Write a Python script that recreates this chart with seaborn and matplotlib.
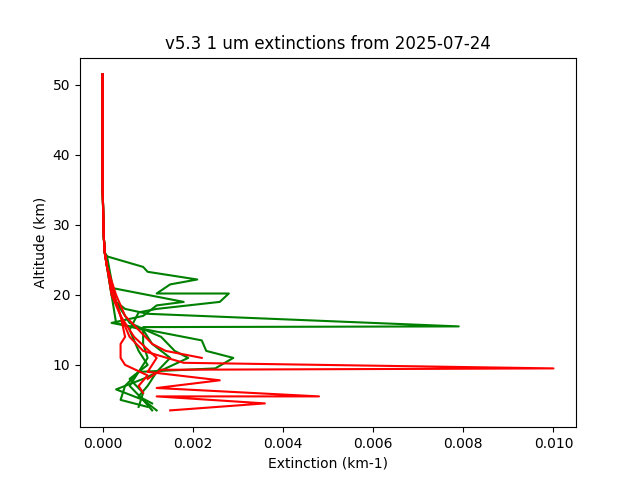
import matplotlib
matplotlib.use("Agg")
import matplotlib.pyplot as plt
import seaborn as sns

# shared upper-atmosphere part (altitude km, extinction km-1)
top_alt = [51.5, 45, 40, 36, 33, 30, 28, 27, 26]
top_ext = [0.0, 0.0, 0.0, 0.0, 0.00001, 0.00002, 0.00003, 0.00004, 0.00005]

green_profiles = [
    ([25.5, 22, 19, 18, 17.3, 15.5, 15.4, 13, 11, 9, 7, 5, 3.5],
     [0.0001, 0.0002, 0.0003, 0.0005, 0.0010, 0.0079, 0.0009, 0.0009, 0.001, 0.0008, 0.0006, 0.0009, 0.0011]),
    ([25.5, 24, 23.3, 22.2, 21.5, 20.2, 20.2, 19, 18, 17.5, 15, 12, 10, 8, 6, 4],
     [0.0001, 0.0009, 0.001, 0.0021, 0.0015, 0.0012, 0.0028, 0.0026, 0.0012, 0.0008, 0.0006, 0.0008, 0.001, 0.0006, 0.0009, 0.0008]),
    ([24, 21, 20, 19, 18.5, 17, 16, 15, 13.5, 12, 11, 9.5, 9, 7, 5, 4],
     [0.0001, 0.0002, 0.0010, 0.0018, 0.0012, 0.0009, 0.0002, 0.001, 0.0022, 0.0023, 0.0029, 0.0025, 0.0008, 0.0005, 0.0004, 0.001]),
    ([24, 20, 18, 16, 14, 12, 11, 8, 6.5, 5, 3.5],
     [0.0001, 0.0002, 0.0004, 0.0006, 0.0013, 0.0016, 0.0019, 0.0009, 0.0003, 0.0009, 0.0012]),
    ([24, 20, 16, 15, 13, 11, 9, 7, 5.5, 4.5],
     [0.0001, 0.0002, 0.0003, 0.0009, 0.0011, 0.0015, 0.0012, 0.0010, 0.0008, 0.0011]),
]
red_profiles = [
    ([24, 20, 17, 14, 12, 10.3, 9.5, 9.3, 8],
     [0.0001, 0.00025, 0.0004, 0.0006, 0.0009, 0.0018, 0.0100, 0.0013, 0.0010]),
    ([24, 20, 17, 14, 11, 9, 7.8, 6.7, 5.5, 5.5, 4.5, 3.5],
     [0.0001, 0.00025, 0.0004, 0.0007, 0.0012, 0.0010, 0.0026, 0.0012, 0.0048, 0.0012, 0.0036, 0.0015]),
    ([24, 20, 17, 14, 13, 11, 10, 8.5, 7, 6],
     [0.0001, 0.0002, 0.0004, 0.0005, 0.0004, 0.0004, 0.0005, 0.0010, 0.0008, 0.0009]),
    ([24, 20, 17, 15, 13, 12, 11],
     [0.0001, 0.0003, 0.0005, 0.0008, 0.0011, 0.0014, 0.0022]),
]

fig, ax = plt.subplots(figsize=(6.4, 4.8), dpi=100)
for alts, exts in green_profiles:
    sns.lineplot(x=top_ext + exts, y=top_alt + alts, sort=False, estimator=None,
                 color="green", ax=ax)
for alts, exts in red_profiles:
    sns.lineplot(x=top_ext + exts, y=top_alt + alts, sort=False, estimator=None,
                 color="red", ax=ax)
ax.set_title("v5.3 1 um extinctions from 2025-07-24")
ax.set_xlabel("Extinction (km-1)")
ax.set_ylabel("Altitude (km)")
fig.savefig("out.png")
